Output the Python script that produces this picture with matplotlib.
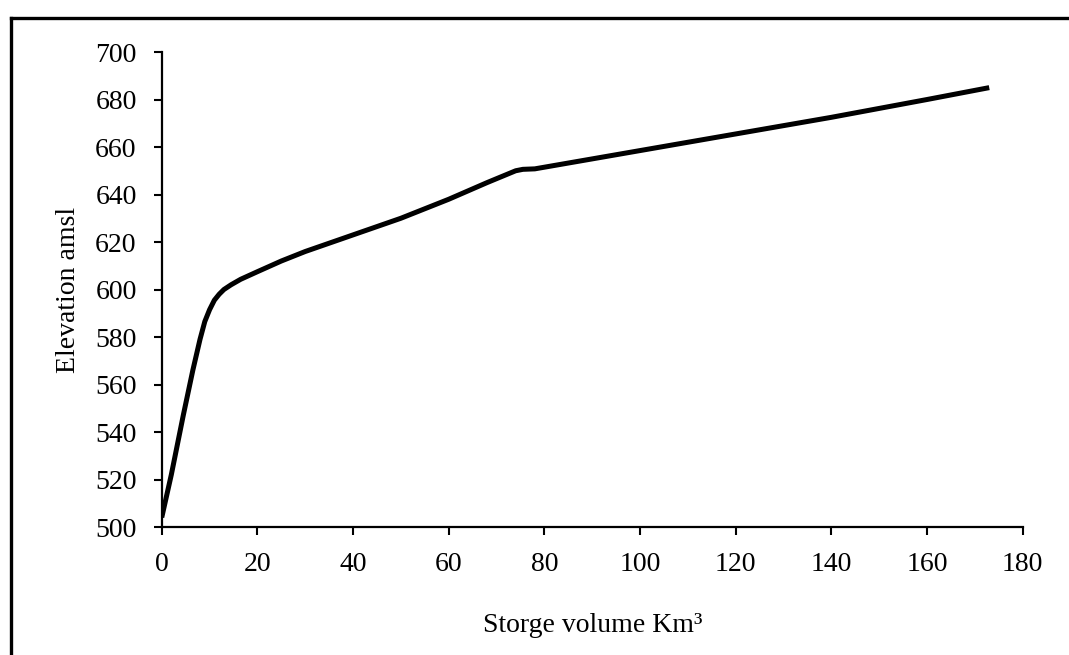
import numpy as np
import matplotlib
matplotlib.use("Agg")
import matplotlib.pyplot as plt
from matplotlib.lines import Line2D

plt.rcParams['font.family'] = ['Liberation Serif', 'DejaVu Serif']

# storage volume (km3) vs elevation (m amsl)
volume = [0, 2, 4.5, 6.5, 8, 9, 10, 11, 12, 13, 14.5, 16.5, 20, 25, 30, 40, 50, 60, 68, 74, 75.5, 78, 90, 100, 120, 140, 160, 173]
elevation = [504, 522, 547, 566, 579, 586.5, 591.5, 595.5, 598, 600, 602, 604.3, 607.5, 612, 616, 623, 630, 638, 645, 650, 650.6, 650.8, 655, 658.5, 665.5, 672.5, 680, 685]

x_ticks = np.arange(0, 181, 20)
y_ticks = np.arange(500, 701, 20)

fig = plt.figure(figsize=(10.69, 6.55), dpi=100)
ax = fig.add_axes([0.1513, 0.1954, 0.8054, 0.7252])

ax.plot(volume, elevation, color='black', linewidth=3.6, solid_joinstyle='round', solid_capstyle='butt')

ax.set_xlim(0, 180)
ax.set_ylim(500, 700)
ax.set_xticks(x_ticks)
ax.set_yticks(y_ticks)
ax.tick_params(direction='out', length=6, width=1.5, labelsize=20, pad=12, colors='black')

for s in ['top', 'right']:
    ax.spines[s].set_visible(False)
for s in ['left', 'bottom']:
    ax.spines[s].set_linewidth(1.6)

ax.set_xlabel('Storge volume Km³', fontsize=20, labelpad=26)
ax.set_ylabel('Elevation amsl', fontsize=20, labelpad=10)

# outer frame (only top and left edges visible in the crop)
fig.add_artist(Line2D([10.5 / 1069, 1], [1 - 17.5 / 655, 1 - 17.5 / 655], transform=fig.transFigure, color='black', linewidth=2.4))
fig.add_artist(Line2D([10.5 / 1069, 10.5 / 1069], [0, 1 - 17.5 / 655], transform=fig.transFigure, color='black', linewidth=2.4))

fig.savefig('out.png', dpi=100)
